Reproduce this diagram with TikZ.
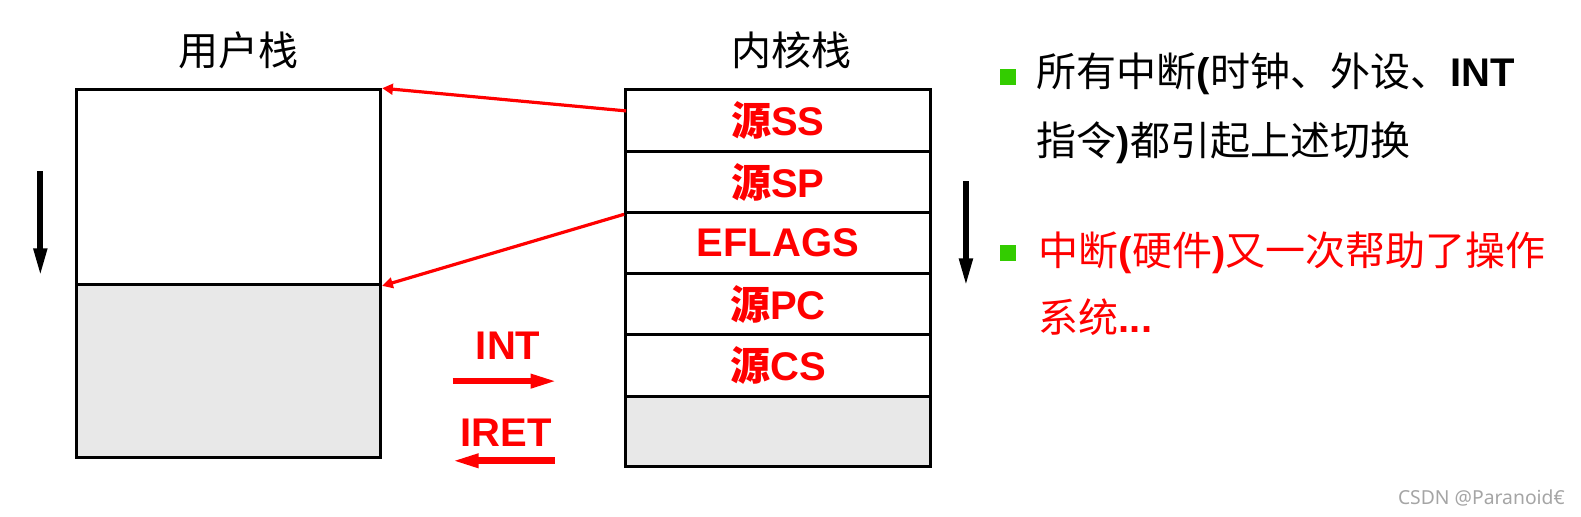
\documentclass[tikz,border=0pt]{standalone}
\usepackage{fontspec}
\setmainfont{Liberation Sans}
\newfontfamily\cjk{Noto Sans CJK SC}
\newfontfamily\wmfont{Noto Sans}
\usetikzlibrary{arrows.meta}
\definecolor{myred}{RGB}{255,0,0}
\definecolor{mygreen}{RGB}{51,204,0}
\definecolor{lightfill}{RGB}{232,232,232}
\definecolor{wmgray}{RGB}{165,165,165}
\newcommand{\upx}{0.7563pt}
\begin{document}
\begin{tikzpicture}[x=0.7563pt,y=-0.7563pt,
  stackbox/.style={draw=black,line width=2.3pt,inner sep=0pt,minimum width=302*\upx},
  rowlabel/.style={text=myred,font=\fontsize{30}{36}\selectfont\bfseries},
  titletext/.style={inner sep=0pt,font=\fontsize{30}{36}\selectfont\cjk},
  rtext/.style={inner sep=0pt,font=\fontsize{30}{36}\selectfont},
  bulletsq/.style={fill=mygreen,inner sep=0pt,minimum size=16*\upx},
  thinred/.style={draw=myred,line width=2.4pt,-{Triangle[length=8pt,width=8pt]}},
  bigred/.style={draw=myred,line width=5pt,-{Triangle[length=21pt,width=9.5pt]}},
  blackdown/.style={draw=black,line width=4.3pt,-{Triangle[length=21pt,width=9.5pt]}}]
\useasboundingbox (0,0) rectangle (1568,512);
% titles
\node[titletext,anchor=base] (t1) at (237,65) {用户栈};
\node[titletext,anchor=base] (t2) at (785,65) {内核栈};
% user stack
\node[stackbox,minimum height=193*\upx] (ut) at (226.5,185.5) {};
\node[stackbox,fill=lightfill,minimum height=172*\upx] (ub) at (226.5,368) {};
% kernel stack
\node[stackbox,minimum height=61*\upx,rowlabel] (k1) at (771.5,119.5) {{\cjk 源}SS};
\node[stackbox,minimum height=61*\upx,rowlabel] (k2) at (771.5,180.5) {{\cjk 源}SP};
\node[stackbox,minimum height=60*\upx,rowlabel] (k3) at (771.5,241) {EFLAGS};
\node[stackbox,minimum height=61*\upx,rowlabel] (k4) at (771.5,301.5) {{\cjk 源}PC};
\node[stackbox,minimum height=61*\upx,rowlabel] (k5) at (771.5,362.5) {{\cjk 源}CS};
\node[stackbox,fill=lightfill,minimum height=70*\upx] (k6) at (771.5,428) {};
% black direction arrows
\coordinate (la1) at (40,170);
\coordinate (la2) at (40,274);
\coordinate (ra1) at (958,180);
\coordinate (ra2) at (958,284);
\draw[blackdown] (la1) -- (la2);
\draw[blackdown] (ra1) -- (ra2);
% red connectors
\coordinate (s1) at (621,110);
\draw[thinred] (s1) -- (ut.north east);
\draw[thinred] (k2.south west) -- (ut.south east);
% INT / IRET
\node[rtext,anchor=base,text=myred,font=\fontsize{30}{36}\selectfont\bfseries] (intl) at (504,357) {INT};
\node[rtext,anchor=base,text=myred,font=\fontsize{30}{36}\selectfont\bfseries] (iretl) at (502,443) {IRET};
\coordinate (inta) at (449,378);
\coordinate (intb) at (554,378);
\coordinate (ireta) at (550,457);
\coordinate (iretb) at (447,457);
\draw[bigred] (inta) -- (intb);
\draw[bigred] (ireta) -- (iretb);
% right text
\node[bulletsq] (b1) at (1000,76) {};
\node[bulletsq] (b2) at (1000,251) {};
\node[rtext,anchor=base west] (l1) at (1028,86) {{\cjk 所有中断}\textbf{(}{\cjk 时钟、外设、}\textbf{INT}};
\node[rtext,anchor=base west] (l2) at (1028,154) {{\cjk 指令}\textbf{)}{\cjk 都引起上述切换}};
\node[rtext,anchor=base west,text=myred] (l3) at (1030,263) {{\cjk 中断}\textbf{(}{\cjk 硬件}\textbf{)}{\cjk 又一次帮助了操作}};
\node[rtext,anchor=base west,text=myred] (l4) at (1030,330) {{\cjk 系统}\textbf{...}};
% watermark
\node[anchor=east,inner sep=0pt,text=wmgray,font=\wmfont\fontsize{14.5}{16}\selectfont] (wm) at (1552,494) {CSDN @Paranoid€};
\end{tikzpicture}
\end{document}
